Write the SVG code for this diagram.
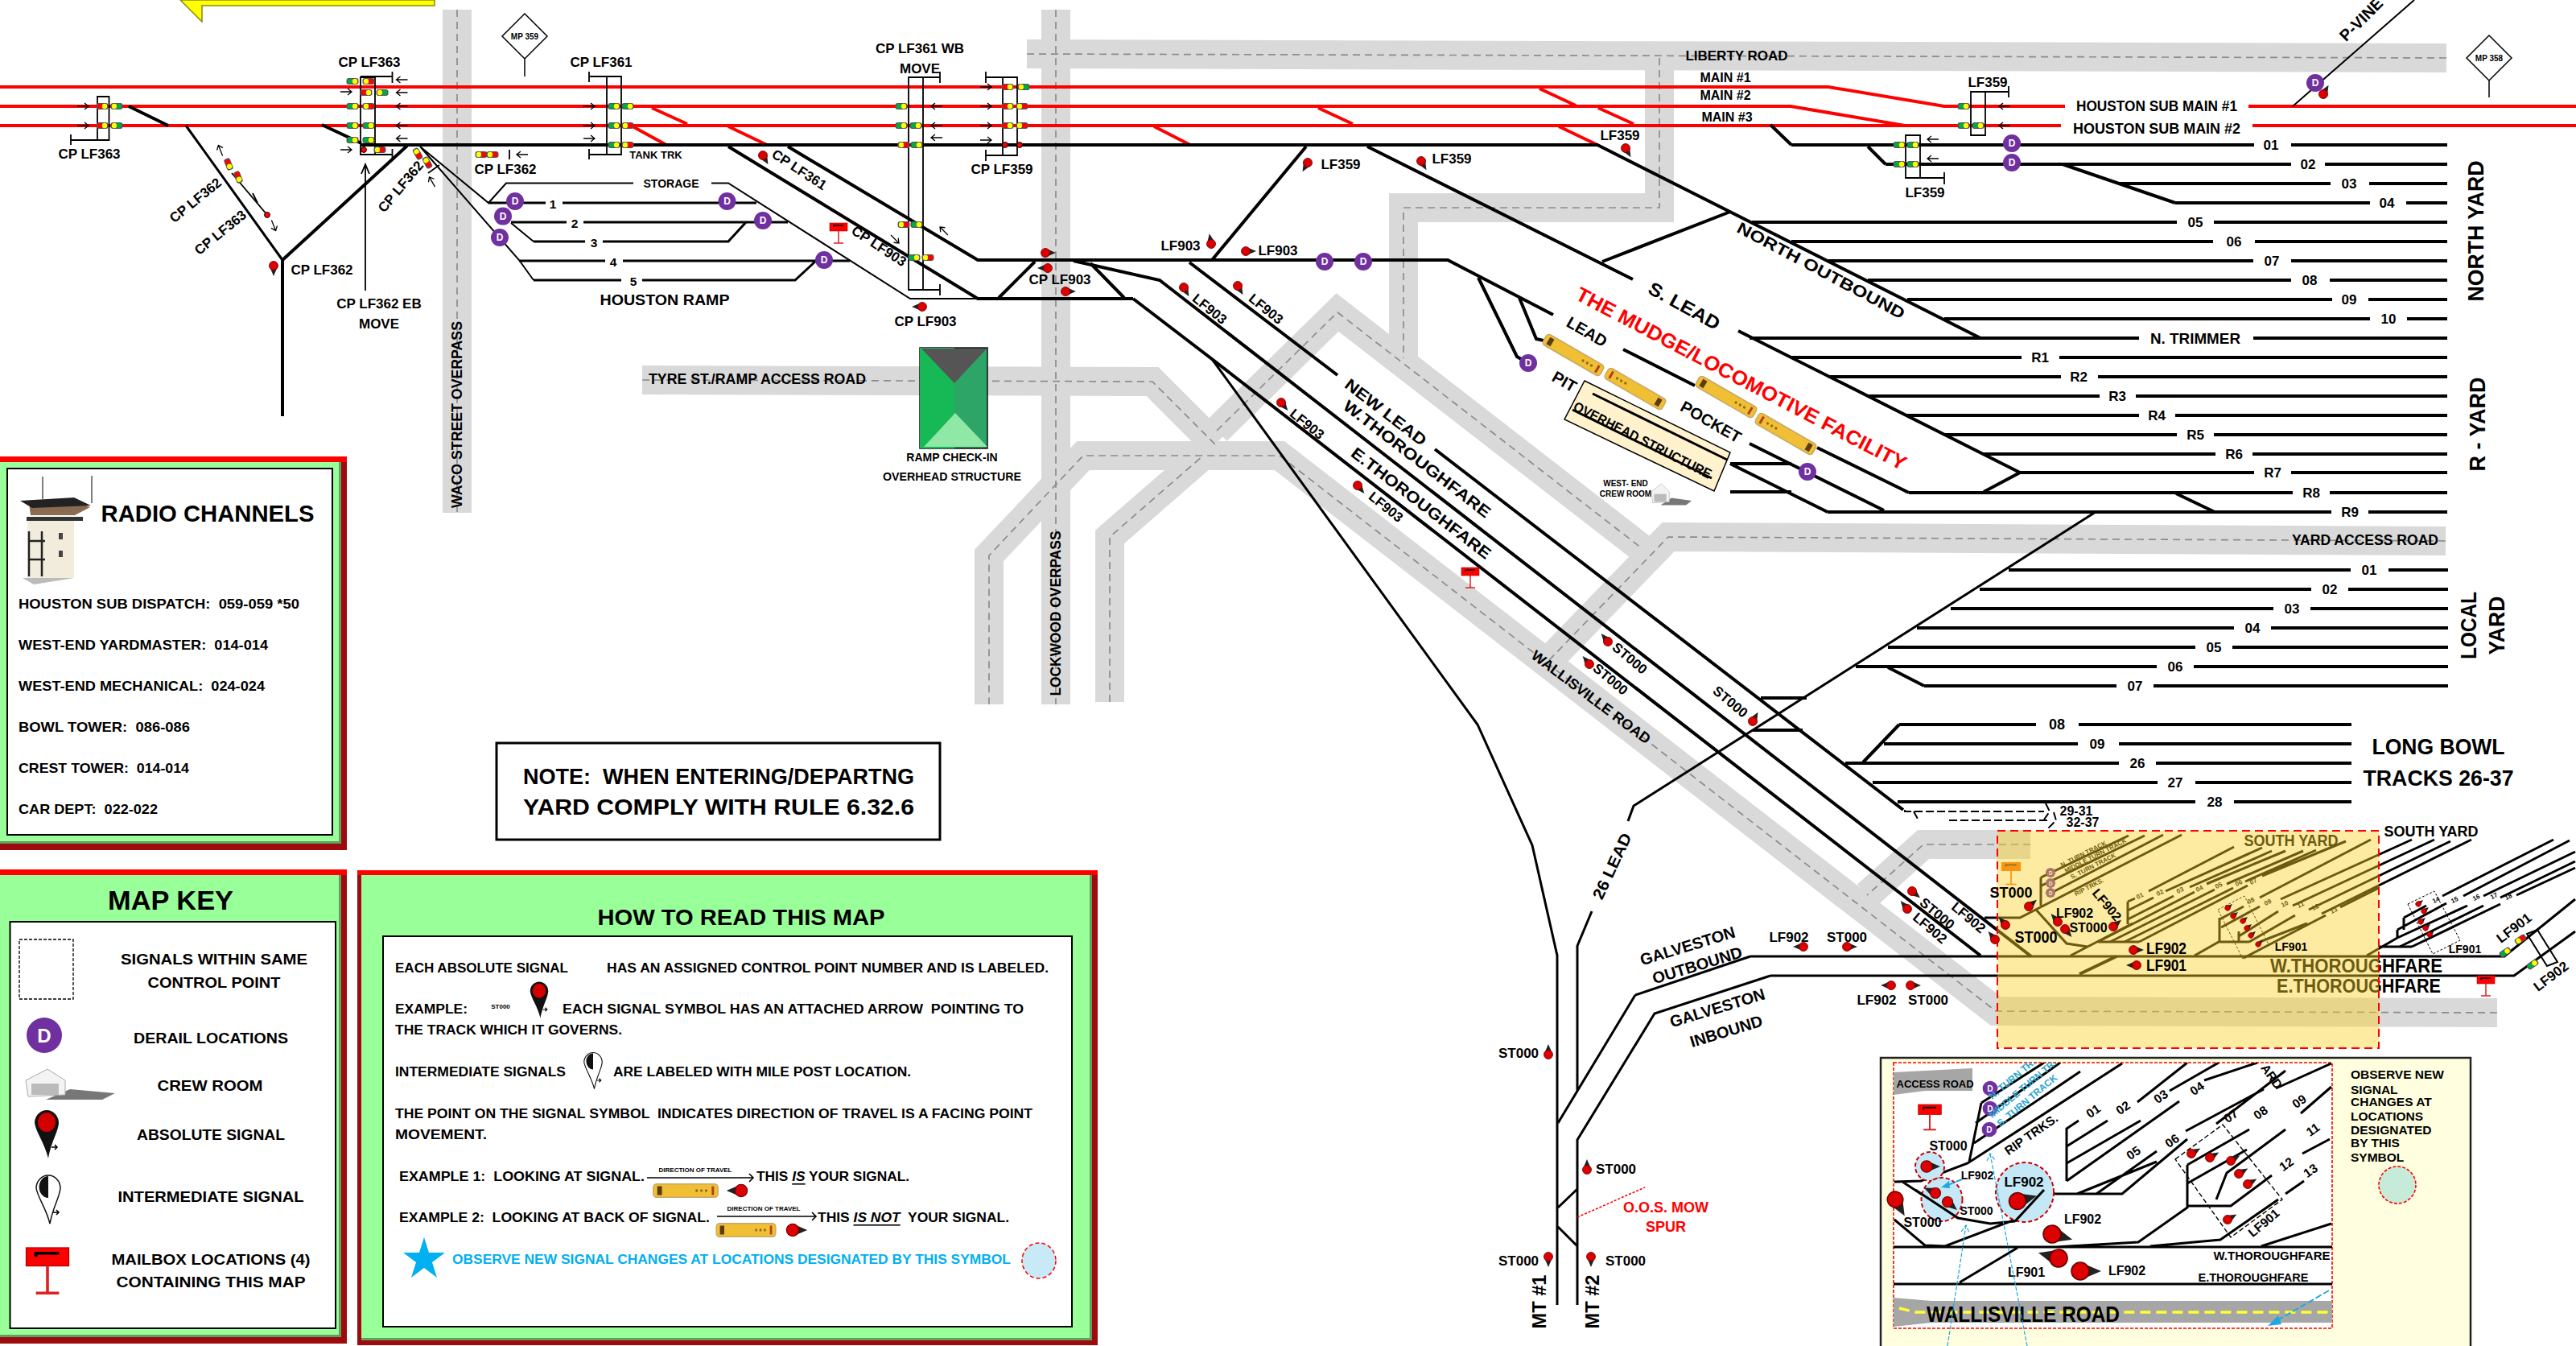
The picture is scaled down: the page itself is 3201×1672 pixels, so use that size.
<svg xmlns="http://www.w3.org/2000/svg" width="3201" height="1672" viewBox="0 0 3201 1672">
<style>
text{font-family:"Liberation Sans",Arial,sans-serif;font-weight:700;dominant-baseline:central;text-anchor:middle;fill:#000;white-space:pre}
.l{text-anchor:start}
.f8{font-size:8px}.f10{font-size:10px}.f12{font-size:12px}.f13{font-size:13px}.f14{font-size:14px}.f15{font-size:15.5px}.f16{font-size:16px}.f17{font-size:17px}.f18{font-size:18px}.f20{font-size:20px}.f23{font-size:23px}.f27{font-size:27px}.f30{font-size:30px}
.wide{font-size:21px}
.red{fill:#f00}.olive{fill:#000}.cyan{fill:#00b0f0}.blue{fill:#2aa6d0}
.band{fill:none;stroke:#d9d9d9;stroke-width:36}
.dash{fill:none;stroke:#8c8c8c;stroke-width:1.7;stroke-dasharray:9 6}
.k{fill:none;stroke:#000;stroke-width:4}
.m{fill:none;stroke:#000;stroke-width:3}
.n{fill:none;stroke:#000;stroke-width:2}
.t{fill:none;stroke:#000;stroke-width:1.6}
.r{fill:none;stroke:#f00;stroke-width:4}
.dsh{fill:none;stroke:#000;stroke-width:1;stroke-dasharray:3 2}
.wh{fill:#fff;stroke:#000;stroke-width:2}
.cp{fill:none;stroke:#000;stroke-width:1.8}
.rd{stroke:#f00;stroke-dasharray:5 3;stroke-width:1.5}
</style>
<defs>
<g id="hRY"><rect x="-7.5" y="-4" width="15" height="8" rx="3" fill="#555"/><circle cx="-3" r="3.2" fill="#f00"/><circle cx="3" r="3.2" fill="#ff0"/></g>
<g id="hGY"><rect x="-7.5" y="-4" width="15" height="8" rx="3" fill="#555"/><circle cx="-3" r="3.2" fill="#0a4"/><circle cx="3" r="3.2" fill="#ff0"/></g>
<g id="hYR"><rect x="-7.5" y="-4" width="15" height="8" rx="3" fill="#555"/><circle cx="-3" r="3.2" fill="#ff0"/><circle cx="3" r="3.2" fill="#f00"/></g>
<g id="hYG"><rect x="-7.5" y="-4" width="15" height="8" rx="3" fill="#555"/><circle cx="-3" r="3.2" fill="#ff0"/><circle cx="3" r="3.2" fill="#0a4"/></g>
<path id="ar" d="M-7 0H7M2 -4L7 0L2 4" fill="none" stroke="#000" stroke-width="1.3"/>
<path id="al" d="M7 0H-7M-2 -4L-7 0L-2 4" fill="none" stroke="#000" stroke-width="1.3"/>
<g id="sg"><path d="M0 -5.5L13 0L0 5.5z" fill="#222"/><circle r="5.5" fill="#d00" stroke="#600" stroke-width=".8"/></g>
<g id="D"><circle r="11" fill="#7030a0"/><text class="f12" style="fill:#fff">D</text></g>
<g id="mb"><rect x="-11" y="0" width="22" height="10" fill="#f00" stroke="#b00" stroke-width=".6"/><path d="M-6 5V3H6" fill="none" stroke="#000" stroke-width="1.6"/><path d="M0 10V25M-6 25H6" fill="none" stroke="#d22" stroke-width="1.5"/></g>
<g id="loco"><rect x="-41" y="-7.5" width="82" height="15" rx="4" fill="#f1bf34" stroke="#c7a868" stroke-width="1.5"/><rect x="-36" y="-5" width="6" height="10" fill="#5a3c10"/><circle cx="14" r="1.6" fill="#8a6a20"/><circle cx="20" r="1.6" fill="#8a6a20"/><circle cx="26" r="1.6" fill="#8a6a20"/><rect x="33" y="-5" width="3" height="10" fill="#b04020"/></g>
<g id="crew"><path d="M60 25L116 30L100 38L30 38z" fill="#777"/><path d="M5 14L32 0L54 14L54 32L8 34z" fill="#f3f3f3" stroke="#aaa"/><rect x="12" y="18" width="34" height="14" fill="#bbb"/></g>
<g id="pin"><path d="M-15 -2A15 16 0 0 1 15 -2C14 10 6 20 2 42C-3 22 -13 10 -15 -2z" fill="#111"/><ellipse cy="-3" rx="11" ry="12" fill="#d40000"/><path d="M6 28H13M10 25L13 28L10 31" fill="none" stroke="#000" stroke-width="1.5"/></g>
<g id="pinw"><path d="M-15 -2A15 16 0 0 1 15 -2C14 10 6 20 2 42C-3 22 -13 10 -15 -2z" fill="#fff" stroke="#111" stroke-width="1.5"/><path d="M0 -17A11 13 0 0 0 0 10z" fill="#111"/><path d="M6 28H13M10 25L13 28L10 31" fill="none" stroke="#000" stroke-width="1.5"/></g>
<path id="r1" d="M568 12V637"/>
<path id="r2" d="M1312 12V875"/>
<path id="r3" d="M1276 67L3040 72"/>
<path id="r4" d="M2062 72V258H1744V445"/>
<path id="r5" d="M1512 535L1662 388L2040 681"/>
<path id="r6" d="M3039 672L2073 667L1925 820"/>
<path id="r7" d="M798 472L1432 474L1510 552"/>
<path id="r8" d="M3103 1258L2480 1256L1590 566H1346L1229 690V875"/>
<path id="r9" d="M1379 872V667L1495 566"/>
<path id="r10" d="M2523 1049H2390L2320 1112"/>
<clipPath id="c1"><rect x="2353" y="1320" width="545" height="330"/></clipPath>
</defs>
<g id="banner"><path d="M224 0L251 27V7H540V0z" fill="#ff0" stroke="#8a8a00" stroke-width="1.5"/></g>
<g id="roads">
<use href="#r1" class="band"/><use href="#r2" class="band"/><use href="#r3" class="band"/><use href="#r4" class="band"/><use href="#r5" class="band"/><use href="#r6" class="band"/><use href="#r7" class="band"/><use href="#r8" class="band"/><use href="#r9" class="band"/><use href="#r10" class="band"/>
<use href="#r1" class="dash"/><use href="#r2" class="dash"/><use href="#r3" class="dash"/><use href="#r4" class="dash"/><use href="#r5" class="dash"/><use href="#r6" class="dash"/><use href="#r7" class="dash"/><use href="#r8" class="dash"/><use href="#r9" class="dash"/><use href="#r10" class="dash"/>
</g>
<g id="road-labels">
<text class="f18" transform="translate(568 515) rotate(-90)" textLength="232" lengthAdjust="spacingAndGlyphs">WACO STREET OVERPASS</text>
<text class="f18" transform="translate(1312 762) rotate(-90)" textLength="205" lengthAdjust="spacingAndGlyphs">LOCKWOOD OVERPASS</text>
<text class="f18" x="941" y="471" textLength="270" lengthAdjust="spacingAndGlyphs">TYRE ST./RAMP ACCESS ROAD</text>
<text class="f17" x="2158" y="69">LIBERTY ROAD</text>
<text class="f18" x="2939" y="671" textLength="182" lengthAdjust="spacingAndGlyphs">YARD ACCESS ROAD</text>
<text class="f18" transform="translate(1977 866) rotate(37)" textLength="180" lengthAdjust="spacingAndGlyphs">WALLISVILLE ROAD</text>
</g>
<g id="connectors">
<path class="r" d="M0 108H2272L2416 132H2566M2794 132H3201M0 132H2225L2367 156M0 156H2561M2799 156H3201M810 134L854 154M786 157L828 180M905 157L953 180M1913 110L1958 131M1986 134L2030 154M1638 134L1681 154M1434 157L1479 180M1937 157L1985 180"/>
<path class="k" d="M160 132L209 156M400 155L449 178M449 180H1985L2461 420M1699 182L2029 347M2150 263L1991 325M979 182L1215 323H1799L1930 391M905 182L1215 371H1408M1334 324L1441 348L2524 1188M1408 371L1506 446L2461 1187M1478 326L1662 466M1783 558L2365 1006M1506 323L1623 182"/>
<path class="k" d="M2174 420H2658M2800 420H3041M2160 411L2510 587L2465 611M2226 444H2512M2559 444H3041M2272 468H2561M2607 468H3041M2321 492H2609M2654 492H3041M2370 516H2658M2703 516H3041M2416 540H2705M2751 540H3041M2465 564H2753M2799 564H3041M2510 587H2801M2847 587H3041M2372 612H2849M2895 612H3041M2271 636H2897M2943 636H3041M2704 613L2752 636"/>
<path class="k" d="M2177 276H2705M2751 276H3041M2226 300H2750M2802 300H3041M2272 324H2800M2847 324H3041M2321 348H2847M2895 348H3041M2370 372H2898M2943 372H3041M2416 396H2945M2991 396H3041M2226 180H2801M2847 180H3041M2343 204H2847M2889 204H3041M2633 228H2896M2944 228H3041M2703 252H2945M2990 252H3041M2563 204L2703 252M2200 155L2226 180M2321 182L2343 204"/>
<path class="k" d="M2496 708H2921M2968 708H3042M2460 732H2872M2918 732H3042M2424 756H2825M2871 756H3042M2382 780H2776M2822 780H3042M2346 804H2728M2774 804H3042M2306 828H2680M2726 828H3042M2391 852H2630M2676 852H3042M2346 829L2391 852M2360 900H2530M2583 900H2922M2341 924H2582M2633 924H2922M2293 948H2633M2679 948H2922M2327 972H2681M2728 972H2922M2358 996H2728M2776 996H2922M2360 900L2315 947M2188 867H2245M2178 907H2240"/>
<path class="m" d="M2604 636L2030 1001L2023 1020M1978 1132L1960 1175V1355M2032 1236L1936 1395M1506 446L1836 900L1904 1050L1935 1187V1621M2175 1188H3112L3200 1117M2175 1188L2032 1236M2200 1212H3124L3200 1157M2200 1212L2056 1259L1960 1416V1621M1936 1500L1960 1477M1936 1524L1960 1548"/>
<path class="k" d="M2584 1210L2630 1188"/>
<path class="k" d="M2106 479L2017 434M2258 556L2372 612M2174 551L2341 634M2150 576H2226M2150 611H2226M2150 576L2271 636M1837 345L1885 443L1899 451M1888 370L1909 421L1918 423M1241 370L1286 325M1355 327L1397 370"/>
<path class="k" d="M351 323L506 181M351 323V517"/>
<path class="m" d="M231 156L351 323M607 252H678M699 252H940M635 276H704M725 276H979M663 300H727M749 300H905L927 276M645 324H752M774 324H1056M663 348H772M798 348H988L1014 324"/>
<path class="n" d="M522 182L607 252L629 227.5H787M884 227.5H905L1131 371H1215M522 182L645 323L663 348M635 277L663 300"/>
<path d="M2849 132L3000 0" class="n"/>
<path d="M1960 1512L2044 1475" fill="none" stroke="#f00" stroke-width="1.6" stroke-dasharray="3 2"/>
<path d="M2367 1006V1008H2540M2542 998L2547 1008L2540 1018M2422 1019H2547M2552 1009L2555 1019L2545 1029M2378 1008L2384 1019" fill="none" stroke="#000" stroke-width="2" stroke-dasharray="10 4"/>
</g>
<g id="south-tracks" stroke-linecap="butt">
<path class="m" d="M2466 1140H2510L2711 1037M2536 1090L2645 1038M2537 1100L2665 1038M2551 1108L2688 1037M2536 1090V1125M2530 1130L2568 1172L2594 1176M2573 1187L2650 1147M2607 1170H2658M2644 1120V1148M2727 1187L2757 1170H2795M2758 1170V1140M2782 1170V1157"/>
<path class="m" d="M2644 1120L2653 1116M2670 1107L2776 1052M2644 1131L2676 1115M2691 1107L2811 1053M2644 1142L2701 1113M2721 1102L2823 1057M2607 1170L2727 1108M2742 1098L2840 1057M2622 1170L2752 1105M2767 1098L2862 1057M2640 1170L2775 1103M2790 1095L2878 1056M2658 1170L2793 1100M2811 1088L2915 1045M2758 1142L2788 1126M2808 1115L2946 1043M2760 1152L2808 1126M2834 1117L2997 1043M2782 1163L2831 1132M2849 1125L3025 1043M2795 1170L2852 1137M2869 1130L3045 1045M2808 1170L2867 1147M2885 1135L3071 1043M2788 1190L2890 1137M2908 1127L2956 1103M2941 1187L2979 1165M2956 1176H2997"/>
<path class="m" d="M2987 1140L3015 1125M3035 1113L3173 1043M2979 1155L3040 1122M3061 1113L3193 1044M2979 1165L3066 1125M3086 1113L3200 1058M2982 1176L3086 1125M3107 1115L3200 1070M2997 1176L3107 1123M3127 1112L3200 1078M2987 1140V1155M2979 1155V1165"/>
<path class="dsh" d="M2992 1123L3025 1107L3057 1168L3023 1185zM2756 1130L2789 1113L2819 1173L2787 1191z"/>
<path class="n" d="M3140 1160L3165 1200L3178 1195L3153 1155z"/>
</g>
<g id="south-under-labels">
<text class="wide" x="2847" y="1043" textLength="117" lengthAdjust="spacingAndGlyphs">SOUTH YARD</text>
<text class="f23" x="2928" y="1200" textLength="214" lengthAdjust="spacingAndGlyphs">W.THOROUGHFARE</text>
<text class="f23" x="2931" y="1225" textLength="204" lengthAdjust="spacingAndGlyphs">E.THOROUGHFARE</text>
<text class="f8" transform="translate(2589 1061) rotate(-27)">N. TURN TRACK</text>
<text class="f8" transform="translate(2604 1063) rotate(-27)">MIDDLE TURN TRACK</text>
<text class="f8" transform="translate(2601 1076) rotate(-27)">S. TURN TRACK</text>
<text class="f8" transform="translate(2596 1102) rotate(-27)">RIP TRKS.</text>
<text class="f8" transform="translate(2659 1113) rotate(-27)">01</text><text class="f8" transform="translate(2684 1109) rotate(-27)">02</text><text class="f8" transform="translate(2709 1106) rotate(-27)">03</text><text class="f8" transform="translate(2733 1104) rotate(-27)">04</text><text class="f8" transform="translate(2757 1100) rotate(-27)">05</text><text class="f8" transform="translate(2782 1097) rotate(-27)">06</text><text class="f8" transform="translate(2800 1095) rotate(-27)">07</text><text class="f8" transform="translate(2797 1119) rotate(-27)">08</text><text class="f8" transform="translate(2818 1121) rotate(-27)">09</text><text class="f8" transform="translate(2839 1123) rotate(-27)">10</text><text class="f8" transform="translate(2859 1124) rotate(-27)">11</text><text class="f8" transform="translate(2877 1127) rotate(-27)">12</text><text class="f8" transform="translate(2900 1131) rotate(-27)">13</text>
<g transform="translate(2499 1071) scale(1.1)"><rect x="-11" y="0" width="22" height="10" fill="#f60"/><path d="M-6 5V3H6" fill="none" stroke="#333" stroke-width="1.6"/><path d="M0 10V25M-6 25H6" fill="none" stroke="#e60" stroke-width="1.5"/></g>
<use href="#D" transform="translate(2548 1084) scale(.55)"/><use href="#D" transform="translate(2548 1097) scale(.55)"/><use href="#D" transform="translate(2548 1109) scale(.55)"/>
</g>
<rect id="south-box" x="2482" y="1032" width="474" height="270" fill="#f9d125" fill-opacity=".43" stroke="#f00" stroke-width="2" stroke-dasharray="10 6"/>
<g id="labels">
<text class="f16" x="2144" y="96">MAIN #1</text><text class="f16" x="2144" y="118.6">MAIN #2</text><text class="f16" x="2146" y="145">MAIN #3</text>
<text class="f18" x="2680" y="132" textLength="200" lengthAdjust="spacingAndGlyphs">HOUSTON SUB MAIN #1</text>
<text class="f18" x="2680" y="160" textLength="208" lengthAdjust="spacingAndGlyphs">HOUSTON SUB MAIN #2</text>
<text class="f20" transform="translate(2934 24) rotate(-45)">P-VINE</text>
<text class="f17" x="2822" y="180">01</text><text class="f17" x="2868" y="204">02</text><text class="f17" x="2919" y="228">03</text><text class="f17" x="2966" y="252">04</text><text class="f17" x="2728" y="276">05</text><text class="f17" x="2776" y="300">06</text><text class="f17" x="2823" y="324">07</text><text class="f17" x="2870" y="348">08</text><text class="f17" x="2919" y="372">09</text><text class="f17" x="2968" y="396">10</text>
<text class="f18" x="2728" y="421" textLength="112" lengthAdjust="spacingAndGlyphs">N. TRIMMER</text>
<text class="f17" x="2535" y="444">R1</text><text class="f17" x="2583" y="468">R2</text><text class="f17" x="2631" y="492">R3</text><text class="f17" x="2680" y="516">R4</text><text class="f17" x="2728" y="540">R5</text><text class="f17" x="2776" y="564">R6</text><text class="f17" x="2824" y="587">R7</text><text class="f17" x="2872" y="612">R8</text><text class="f17" x="2920" y="636">R9</text>
<text class="f17" x="2944" y="708">01</text><text class="f17" x="2895" y="732">02</text><text class="f17" x="2848" y="756">03</text><text class="f17" x="2799" y="780">04</text><text class="f17" x="2751" y="804">05</text><text class="f17" x="2703" y="828">06</text><text class="f17" x="2653" y="852">07</text>
<text class="f18" x="2556" y="900">08</text><text class="f17" x="2606" y="924">09</text><text class="f17" x="2656" y="948">26</text><text class="f17" x="2703" y="972">27</text><text class="f17" x="2752" y="996">28</text>
<text class="f16" x="2580" y="1007">29-31</text><text class="f16" x="2588" y="1021">32-37</text>
<text class="f27" transform="translate(3077 287) rotate(-90)" textLength="175" lengthAdjust="spacingAndGlyphs">NORTH YARD</text>
<text class="f27" transform="translate(3079 527) rotate(-90)" textLength="117" lengthAdjust="spacingAndGlyphs">R - YARD</text>
<text class="f27" transform="translate(3068 777) rotate(-90)" textLength="84" lengthAdjust="spacingAndGlyphs">LOCAL</text>
<text class="f27" transform="translate(3103 777) rotate(-90)" textLength="73" lengthAdjust="spacingAndGlyphs">YARD</text>
<text class="f27" x="3030" y="928" textLength="165" lengthAdjust="spacingAndGlyphs">LONG BOWL</text>
<text class="f27" x="3030" y="967" textLength="187" lengthAdjust="spacingAndGlyphs">TRACKS 26-37</text>
<text style="font-size:19px" x="3021" y="1032" textLength="117" lengthAdjust="spacingAndGlyphs">SOUTH YARD</text>
<text class="f23" transform="translate(2093 380) rotate(29)" textLength="98" lengthAdjust="spacingAndGlyphs">S. LEAD</text>
<text class="f20" transform="translate(2263 336) rotate(28)" textLength="233" lengthAdjust="spacingAndGlyphs">NORTH OUTBOUND</text>
<text class="red" style="font-size:25px" transform="translate(2164 470) rotate(27.7)" textLength="460" lengthAdjust="spacingAndGlyphs">THE MUDGE/LOCOMOTIVE FACILITY</text>
<text class="f20" transform="translate(1972 412) rotate(30)">LEAD</text>
<text class="f20" transform="translate(1944 474) rotate(30)">PIT</text>
<text class="f20" transform="translate(2126 524) rotate(30)">POCKET</text>
<text class="f20" transform="translate(1722 512) rotate(37.6)" textLength="122" lengthAdjust="spacingAndGlyphs">NEW LEAD</text>
<text class="f20" transform="translate(1761 570) rotate(37.6)" textLength="225" lengthAdjust="spacingAndGlyphs">W.THOROUGHFARE</text>
<text class="f20" transform="translate(1766 625) rotate(37.6)" textLength="213" lengthAdjust="spacingAndGlyphs">E.THOROUGHFARE</text>
<text class="f20" transform="translate(2003 1076) rotate(-65)" textLength="88" lengthAdjust="spacingAndGlyphs">26 LEAD</text>
<text class="f20" transform="translate(2097 1175) rotate(-17)">GALVESTON</text><text class="f20" transform="translate(2109 1199) rotate(-17)">OUTBOUND</text>
<text class="f20" transform="translate(2134 1252) rotate(-17)">GALVESTON</text><text class="f20" transform="translate(2145 1281) rotate(-17)">INBOUND</text>
<text class="f23" transform="translate(1913 1617) rotate(-90)" textLength="67" lengthAdjust="spacingAndGlyphs">MT #1</text><text class="f23" transform="translate(1979 1617) rotate(-90)" textLength="67" lengthAdjust="spacingAndGlyphs">MT #2</text>
<text class="f18 red" x="2070" y="1500">O.O.S. MOW</text><text class="f18 red" x="2070" y="1524">SPUR</text>
<text class="f17" x="1887" y="1308">ST000</text><text class="f17" x="2008" y="1452">ST000</text><text class="f17" x="1887" y="1566">ST000</text><text class="f17" x="2020" y="1566">ST000</text>
<text class="f17" x="2223" y="1164">LF902</text><text class="f17" x="2295" y="1164">ST000</text><text class="f17" x="2332" y="1242">LF902</text><text class="f17" x="2396" y="1242">ST000</text>
<text class="f17" transform="translate(2025 818) rotate(40)">ST000</text><text class="f17" transform="translate(2001 844) rotate(40)">ST000</text><text class="f17" transform="translate(2150 872) rotate(40)">ST000</text>
<text class="f17" transform="translate(2407 1135) rotate(40)">ST000</text><text class="f17" transform="translate(2398 1153) rotate(40)">LF902</text><text class="f17" transform="translate(2446 1140) rotate(40)">LF902</text>
<text class="f18" x="2499" y="1109" textLength="53" lengthAdjust="spacingAndGlyphs">ST000</text><text class="f16" x="2578" y="1134">LF902</text><text class="f16" x="2595" y="1152">ST000</text><text class="f20" x="2530" y="1164" textLength="53" lengthAdjust="spacingAndGlyphs">ST000</text>
<text class="f16" transform="translate(2618 1124) rotate(50)">LF902</text>
<text class="f20" x="2692" y="1178" textLength="50" lengthAdjust="spacingAndGlyphs">LF902</text><text class="f20" x="2692" y="1199" textLength="50" lengthAdjust="spacingAndGlyphs">LF901</text>
<text class="f14" x="2847" y="1176">LF901</text><text class="f14" x="3063" y="1179">LF901</text>
<text class="f17" transform="translate(3124 1153) rotate(-37)">LF901</text><text class="f17" transform="translate(3170 1213) rotate(-37)">LF902</text>
<text class="f8" transform="translate(3027 1118) rotate(-27)">14</text><text class="f8" transform="translate(3050 1118) rotate(-27)">15</text><text class="f8" transform="translate(3077 1115) rotate(-27)">16</text><text class="f8" transform="translate(3099 1113) rotate(-27)">17</text><text class="f8" transform="translate(3117 1114) rotate(-27)">18</text>
<text class="f17" x="2013" y="168">LF359</text><text class="f17" x="1666" y="204">LF359</text><text class="f17" x="1804" y="197">LF359</text><text class="f17" x="2470" y="102">LF359</text><text class="f17" x="2392" y="239">LF359</text>
<text class="f17" x="1467" y="305">LF903</text><text class="f17" x="1588" y="311">LF903</text><text class="f17" x="1317" y="347">CP LF903</text><text class="f17" x="1150" y="399">CP LF903</text>
<text class="f17" transform="translate(1503 384) rotate(39)">LF903</text><text class="f17" transform="translate(1573 384) rotate(39)">LF903</text><text class="f17" transform="translate(1624 527) rotate(39)">LF903</text><text class="f17" transform="translate(1722 630) rotate(39)">LF903</text>
<text class="f17" transform="translate(1092 306) rotate(33)">CP LF903</text><text class="f17" transform="translate(993 211) rotate(33)">CP LF361</text>
<text class="f17" x="1143" y="60">CP LF361 WB</text><text class="f17" x="1143" y="85">MOVE</text><text class="f17" x="1245" y="210">CP LF359</text>
<text class="f17" x="111" y="191">CP LF363</text><text class="f17" x="459" y="77.5">CP LF363</text><text class="f17" x="747" y="77.5">CP LF361</text>
<text class="f17" x="628" y="210">CP LF362</text><text class="f17" x="400" y="335">CP LF362</text><text class="f17" x="471" y="377">CP LF362 EB</text><text class="f17" x="471" y="402">MOVE</text>
<text class="f13" x="815" y="192">TANK TRK</text>
<text class="f17" transform="translate(243 249) rotate(-39)">CP LF362</text><text class="f17" transform="translate(274 289) rotate(-39)">CP LF363</text><text class="f17" transform="translate(498 232) rotate(-50)">CP LF362</text>
<text class="f14" x="834" y="228">STORAGE</text><text class="f18" x="826" y="373" textLength="161" lengthAdjust="spacingAndGlyphs">HOUSTON RAMP</text>
<text class="f15" x="687" y="253">1</text><text class="f15" x="714" y="277">2</text><text class="f15" x="738" y="301">3</text><text class="f15" x="762" y="325">4</text><text class="f15" x="787" y="349">5</text>
<text class="f14" x="1183" y="568">RAMP CHECK-IN</text><text class="f14" x="1183" y="592" textLength="172" lengthAdjust="spacingAndGlyphs">OVERHEAD STRUCTURE</text>
<text class="f10" x="2020" y="600">WEST- END</text><text class="f10" x="2020" y="613">CREW ROOM</text>
</g>
<g id="mileposts">
<path class="wh" style="stroke-width:1.5" d="M652 17L680 45L652 73L624 45zM652 73V95M3093 44L3121 72L3093 100L3065 72zM3093 100V121"/>
<text class="f10" x="652" y="45">MP 359</text><text class="f10" x="3093" y="72">MP 358</text>
</g>
<g id="control-points">
<path class="cp" d="M121 120H135.5V174H121zM88 167V180M88 174H135.5M448 96H466V192H448zM448 95H487.5M487.5 89V103M448 192H487.5M487.5 185V198M754 95H772V192H754zM732 95H772M732 89V102M732 192H772M732 185V198M1129 96H1147V360H1129zM1129 96H1168M1168 89V103M1129 360H1168M1168 353V367M1246 96H1264V193H1246zM1225 96H1264M1225 89V103M1225 193H1264M1225 186V200M2449 114H2467V168H2449zM2449 114H2496M2496 107V121M2368 168H2386V221H2368zM2368 221H2416M2416 214V229M633 186V198M454 361V204M449 216L454 204L459 216M314 240L320 252M288 215L332 267M532 215L546 205"/>
<g id="heads">
<use href="#hRY" x="127" y="132"/><use href="#hYG" x="145" y="132"/><use href="#hRY" x="127" y="156"/><use href="#hYG" x="145" y="156"/>
<use href="#hGY" x="438" y="101"/><use href="#hYR" x="458" y="101"/><use href="#hRY" x="455" y="115"/><use href="#hYG" x="475" y="115"/><use href="#hGY" x="438" y="132"/><use href="#hYR" x="458" y="132"/><use href="#hGY" x="438" y="156"/><use href="#hGY" x="458" y="156"/><use href="#hGY" x="438" y="174"/><use href="#hGY" x="458" y="174"/><use href="#hYR" x="472" y="186"/><circle cx="452" cy="186" r="3.4" fill="#f00" stroke="#000"/>
<use href="#hGY" x="763" y="132"/><use href="#hGY" x="780" y="132"/><use href="#hGY" x="763" y="156"/><use href="#hYR" x="780" y="156"/><use href="#hGY" x="763" y="180"/><use href="#hYR" x="780" y="180"/>
<use href="#hYR" x="598" y="192"/><use href="#hYR" x="612" y="192"/>
<use href="#hGY" x="1120" y="132"/><use href="#hGY" x="1120" y="156"/><use href="#hGY" x="1138" y="156"/><use href="#hYR" x="1123" y="180"/><use href="#hGY" x="1139" y="180"/><use href="#hYR" x="1123" y="279"/><use href="#hGY" x="1139" y="279"/><use href="#hGY" x="1136" y="320"/><use href="#hYR" x="1153" y="320"/>
<use href="#hRY" x="1252" y="108"/><use href="#hYG" x="1272" y="108"/><use href="#hRY" x="1252" y="132"/><use href="#hYR" x="1270" y="132"/><use href="#hRY" x="1252" y="156"/><use href="#hYR" x="1270" y="156"/><circle cx="1249" cy="180" r="3.4" fill="#f00" stroke="#000"/><circle cx="1267" cy="180" r="3.4" fill="#f00" stroke="#000"/>
<use href="#hGY" x="2440" y="132"/><use href="#hGY" x="2440" y="156"/><use href="#hGY" x="2458" y="156"/><use href="#hGY" x="2360" y="180"/><use href="#hGY" x="2377" y="180"/><use href="#hGY" x="2360" y="204"/><use href="#hGY" x="2377" y="204"/>
<use href="#hRY" transform="translate(284 204) rotate(68)"/><use href="#hRY" transform="translate(296 220) rotate(68)"/><use href="#hYR" transform="translate(519 191) rotate(60)"/><use href="#hYR" transform="translate(531 202) rotate(60)"/><circle cx="332" cy="267" r="3.4" fill="#f00" stroke="#000"/>
<use href="#hGY" transform="translate(3113 1183) rotate(-35)"/><use href="#hYR" transform="translate(3132 1167) rotate(-35)"/><use href="#hGY" transform="translate(3147 1198) rotate(-35)"/>
</g>
<g id="arrows">
<use href="#ar" x="103" y="132"/><use href="#ar" x="103" y="156"/><use href="#al" x="499.5" y="99"/><use href="#al" x="499.5" y="115"/><use href="#al" x="499.5" y="132"/><use href="#al" x="499.5" y="156"/><use href="#al" x="499.5" y="172"/><use href="#ar" x="430" y="114"/><use href="#ar" x="430" y="186"/>
<use href="#ar" x="732" y="132"/><use href="#ar" x="732" y="156"/><use href="#ar" x="732" y="172"/><use href="#al" x="649" y="192"/>
<use href="#al" x="1164" y="132"/><use href="#al" x="1164" y="156"/><use href="#al" x="1164" y="171"/><use href="#ar" x="1225" y="108"/><use href="#ar" x="1225" y="132"/><use href="#ar" x="1225" y="156"/><use href="#ar" x="1225" y="174"/>
<use href="#al" x="2491" y="132"/><use href="#al" x="2491" y="156"/><use href="#al" x="2402" y="173"/><use href="#al" x="2402" y="197"/>
<use href="#al" transform="translate(1173 287) rotate(45)"/><use href="#ar" transform="translate(1112 297) rotate(45)"/><use href="#al" transform="translate(274 187) rotate(68)"/><use href="#ar" transform="translate(340 280) rotate(68)"/><use href="#al" transform="translate(537 226) rotate(60)"/>
</g>
</g>
<g id="derails">
<use href="#D" x="640" y="250"/><use href="#D" x="903.5" y="250"/><use href="#D" x="625" y="268.6"/><use href="#D" x="948" y="274"/><use href="#D" x="1024" y="323"/><use href="#D" x="621" y="295"/><use href="#D" x="1646" y="325"/><use href="#D" x="1694" y="325"/><use href="#D" x="1899" y="451"/><use href="#D" x="2246" y="586"/><use href="#D" x="2500" y="178"/><use href="#D" x="2500" y="202"/><use href="#D" x="2877" y="103"/>
</g>
<g id="signals">
<use href="#sg" transform="translate(340 330) rotate(90)"/><use href="#sg" transform="translate(948 193) rotate(60)"/><use href="#sg" x="1299" y="314"/><use href="#sg" transform="translate(1302 333) rotate(180)"/><use href="#sg" x="1324" y="362"/><use href="#sg" transform="translate(1625 202) rotate(120)"/><use href="#sg" transform="translate(1766 200) rotate(60)"/><use href="#sg" transform="translate(2020 184) rotate(60)"/><use href="#sg" transform="translate(1505 303) rotate(-100)"/><use href="#sg" x="1548" y="312"/><use href="#sg" transform="translate(1471 357) rotate(60)"/><use href="#sg" transform="translate(1538 355) rotate(60)"/><use href="#sg" transform="translate(1592 500) rotate(50)"/><use href="#sg" transform="translate(1687 603) rotate(50)"/><use href="#sg" transform="translate(1146 381) rotate(180)"/>
<use href="#sg" transform="translate(1998 797) rotate(-130)"/><use href="#sg" transform="translate(1975 825) rotate(-130)"/><use href="#sg" transform="translate(2178 896) rotate(-60)"/><use href="#sg" transform="translate(2887 117) rotate(-60)"/>
<use href="#sg" transform="translate(2376 1107) rotate(40)"/><use href="#sg" transform="translate(2370 1129) rotate(-130)"/><use href="#sg" transform="translate(2241 1176) rotate(180)"/><use href="#sg" x="2295" y="1176"/><use href="#sg" transform="translate(2350 1224) rotate(180)"/><use href="#sg" x="2374" y="1224"/>
<use href="#sg" transform="translate(1924 1310) rotate(-90)"/><use href="#sg" transform="translate(1972 1453) rotate(-90)"/><use href="#sg" transform="translate(1924 1561) rotate(90)"/><use href="#sg" transform="translate(1977 1561) rotate(90)"/>
<use href="#sg" transform="translate(2521 1126) rotate(-40)"/><use href="#sg" transform="translate(2492 1149) rotate(-130)"/><use href="#sg" transform="translate(2557 1145) rotate(-130)"/><use href="#sg" transform="translate(2566 1154) rotate(50)"/><use href="#sg" transform="translate(2626 1151) rotate(-40)"/><use href="#sg" x="2651" y="1180"/><use href="#sg" transform="translate(2655 1199) rotate(180)"/><use href="#sg" transform="translate(2479 1167) rotate(-130)"/>
<use href="#sg" transform="translate(2768 1128) rotate(-40) scale(.6)"/><use href="#sg" transform="translate(2775 1138) rotate(-40) scale(.6)"/><use href="#sg" transform="translate(2787 1144) rotate(-40) scale(.6)"/><use href="#sg" transform="translate(2792 1153) rotate(-40) scale(.6)"/><use href="#sg" transform="translate(2797 1162) rotate(-40) scale(.6)"/><use href="#sg" transform="translate(2806 1173) rotate(-40) scale(.6)"/>
<use href="#sg" transform="translate(3005 1123) rotate(-40) scale(.6)"/><use href="#sg" transform="translate(3012 1132) rotate(-40) scale(.6)"/><use href="#sg" transform="translate(3008 1145) rotate(-40) scale(.6)"/><use href="#sg" transform="translate(3014 1153) rotate(-40) scale(.6)"/><use href="#sg" transform="translate(3019 1161) rotate(-40) scale(.6)"/>
</g>
<g id="mailboxes"><use href="#mb" x="1042" y="277"/><use href="#mb" x="1827" y="705"/><use href="#mb" x="3089" y="1212"/></g>
<g id="ramp-structure">
<rect x="1143" y="432" width="84" height="125" fill="#2ca566" stroke="#111" stroke-width="1.5"/>
<path d="M1143 432H1186V557H1143z" fill="#16b955"/><path d="M1145 433H1226L1186 476z" fill="#555"/><path d="M1148 555L1187 513L1227 555z" fill="#8fe8a5"/>
</g>
<g id="mudge">
<path d="M1969 473L2150 562L2130 610L1944 521z" fill="#fff2cc" stroke="#000" stroke-width="1.5"/>
<path class="m" d="M1979 489L2146 571M1954 509L2127 594"/>
<text class="f17" transform="translate(2041 547) rotate(27)" textLength="190" lengthAdjust="spacingAndGlyphs">OVERHEAD STRUCTURE</text>
<use href="#loco" transform="translate(1955 441) rotate(30)"/><use href="#loco" transform="translate(2032 483) rotate(210)"/><use href="#loco" transform="translate(2145 493) rotate(30)"/><use href="#loco" transform="translate(2219 539) rotate(210)"/>
<use href="#crew" transform="translate(2050 601) scale(.45 .7)"/>
</g>
<g id="radio-panel">
<rect x="-2" y="567" width="433" height="489" fill="#9e0b0f"/><rect x="-2" y="567" width="433" height="7" fill="#f00"/>
<rect x="-2" y="574" width="426" height="474" fill="#5f9f5f"/><rect x="-2" y="574" width="423" height="471" fill="#9f9"/>
<rect x="9" y="582" width="404" height="455" class="wh"/>
<g id="tower"><path d="M53 592V620M114 591V625" stroke="#555" stroke-width="1.5"/><path d="M34 647H92V718H34z" fill="#f1ecdc"/><path d="M36 625H100L112 630L93 640H38z" fill="#8a6a50"/><path d="M25 622L92 618L113 628L40 631z" fill="#222"/><path d="M33 642H103V647H33z" fill="#333"/><path d="M36 660V716M52 660V716M36 672H56M36 695H56" stroke="#222" stroke-width="2.5" fill="none"/><rect x="73" y="662" width="5" height="8" fill="#444"/><rect x="73" y="684" width="5" height="8" fill="#444"/><path d="M28 718H92L42 726z" fill="#bbb"/></g>
<text style="font-size:30px" x="258" y="637" textLength="265" lengthAdjust="spacingAndGlyphs">RADIO CHANNELS</text>
<text class="l f17" x="23" y="750" textLength="349" lengthAdjust="spacingAndGlyphs">HOUSTON SUB DISPATCH:  059-059 *50</text>
<text class="l f17" x="23" y="801" textLength="310" lengthAdjust="spacingAndGlyphs">WEST-END YARDMASTER:  014-014</text>
<text class="l f17" x="23" y="852" textLength="306" lengthAdjust="spacingAndGlyphs">WEST-END MECHANICAL:  024-024</text>
<text class="l f17" x="23" y="903" textLength="213" lengthAdjust="spacingAndGlyphs">BOWL TOWER:  086-086</text>
<text class="l f17" x="23" y="954" textLength="212" lengthAdjust="spacingAndGlyphs">CREST TOWER:  014-014</text>
<text class="l f17" x="23" y="1005" textLength="173" lengthAdjust="spacingAndGlyphs">CAR DEPT:  022-022</text>
</g>
<g id="map-key">
<rect x="-2" y="1080" width="433" height="589" fill="#9e0b0f"/><rect x="-2" y="1080" width="433" height="7" fill="#f00"/>
<rect x="-2" y="1087" width="426" height="574" fill="#5f9f5f"/><rect x="-2" y="1087" width="423" height="571" fill="#9f9"/>
<rect x="12.5" y="1145" width="404.5" height="505" class="wh"/>
<text style="font-size:34px" x="212" y="1118" textLength="156" lengthAdjust="spacingAndGlyphs">MAP KEY</text>
<rect x="24" y="1167" width="67" height="74" fill="none" stroke="#000" stroke-width="1.3" stroke-dasharray="4 2"/>
<text class="f18" x="266" y="1192" textLength="232" lengthAdjust="spacingAndGlyphs">SIGNALS WITHIN SAME</text><text class="f18" x="266" y="1221" textLength="165" lengthAdjust="spacingAndGlyphs">CONTROL POINT</text>
<g transform="translate(55 1286) scale(2)"><use href="#D"/></g>
<text class="f18" x="262" y="1290" textLength="192" lengthAdjust="spacingAndGlyphs">DERAIL LOCATIONS</text>
<use href="#crew" transform="translate(27 1328)"/><text class="f18" x="261" y="1349" textLength="131" lengthAdjust="spacingAndGlyphs">CREW ROOM</text>
<use href="#pin" x="58" y="1397"/><text class="f18" x="262" y="1410" textLength="184" lengthAdjust="spacingAndGlyphs">ABSOLUTE SIGNAL</text>
<use href="#pinw" x="60" y="1478"/><text class="f18" x="262" y="1487" textLength="231" lengthAdjust="spacingAndGlyphs">INTERMEDIATE SIGNAL</text>
<g transform="translate(59 1550) scale(2.4 2.25)"><use href="#mb"/></g>
<text class="f18" x="262" y="1565" textLength="247" lengthAdjust="spacingAndGlyphs">MAILBOX LOCATIONS (4)</text><text class="f18" x="262" y="1593" textLength="235" lengthAdjust="spacingAndGlyphs">CONTAINING THIS MAP</text>
</g>
<g id="how-to-read">
<rect x="444" y="1081" width="920" height="590" fill="#9e0b0f"/><rect x="444" y="1081" width="920" height="6" fill="#f00"/>
<rect x="449" y="1087" width="908" height="578" fill="#5f9f5f"/><rect x="449" y="1087" width="905" height="575" fill="#9f9"/>
<rect x="476" y="1163" width="856" height="485" class="wh"/>
<text class="f27" x="921" y="1140" textLength="357" lengthAdjust="spacingAndGlyphs">HOW TO READ THIS MAP</text>
<text class="l f16" x="491" y="1202" textLength="215" lengthAdjust="spacingAndGlyphs">EACH ABSOLUTE SIGNAL</text>
<text class="l f16" x="754" y="1202" textLength="549" lengthAdjust="spacingAndGlyphs">HAS AN ASSIGNED CONTROL POINT NUMBER AND IS LABELED.</text>
<text class="l f16" x="491" y="1253" textLength="90" lengthAdjust="spacingAndGlyphs">EXAMPLE:</text><text class="f8" x="622" y="1250">ST000</text><use href="#pin" transform="translate(670 1233) scale(.75)"/>
<text class="l f16" x="699" y="1253" textLength="573" lengthAdjust="spacingAndGlyphs">EACH SIGNAL SYMBOL HAS AN ATTACHED ARROW  POINTING TO</text>
<text class="l f16" x="491" y="1279" textLength="282" lengthAdjust="spacingAndGlyphs">THE TRACK WHICH IT GOVERNS.</text>
<text class="l f16" x="491" y="1331" textLength="212" lengthAdjust="spacingAndGlyphs">INTERMEDIATE SIGNALS</text><use href="#pinw" transform="translate(737 1321) scale(.75)"/>
<text class="l f16" x="762" y="1331" textLength="370" lengthAdjust="spacingAndGlyphs">ARE LABELED WITH MILE POST LOCATION.</text>
<text class="l f16" x="491" y="1383" textLength="792" lengthAdjust="spacingAndGlyphs">THE POINT ON THE SIGNAL SYMBOL  INDICATES DIRECTION OF TRAVEL IS A FACING POINT</text>
<text class="l f16" x="491" y="1409" textLength="114" lengthAdjust="spacingAndGlyphs">MOVEMENT.</text>
<text class="l f16" x="496" y="1461" textLength="305" lengthAdjust="spacingAndGlyphs">EXAMPLE 1:  LOOKING AT SIGNAL.</text>
<path class="t" d="M804 1463H936M931 1458L936 1463L931 1468M891 1511H1014M1009 1506L1014 1511L1009 1516"/>
<text class="f8" x="864" y="1453">DIRECTION OF TRAVEL</text><use href="#loco" transform="translate(852 1479) scale(.98 1.1)"/><use href="#sg" transform="translate(921 1479) rotate(180) scale(1.4)"/>
<text class="l f16" x="940" y="1461" textLength="190" lengthAdjust="spacingAndGlyphs">THIS <tspan font-style="italic" text-decoration="underline">IS</tspan> YOUR SIGNAL.</text>
<text class="l f16" x="496" y="1512" textLength="386" lengthAdjust="spacingAndGlyphs">EXAMPLE 2:  LOOKING AT BACK OF SIGNAL.</text>
<text class="f8" x="949" y="1501">DIRECTION OF TRAVEL</text><use href="#loco" transform="translate(927 1528) scale(.9 1.1)"/><use href="#sg" transform="translate(985 1528) scale(1.4)"/>
<text class="l f16" x="1016" y="1512" textLength="238" lengthAdjust="spacingAndGlyphs">THIS <tspan font-style="italic" text-decoration="underline">IS NOT</tspan>  YOUR SIGNAL.</text>
<path d="M527 1537L533 1556L553 1556L537 1568L543 1587L527 1575L511 1587L517 1568L501 1556L521 1556z" fill="#00b0f0"/>
<text class="l f16 cyan" x="562" y="1564" textLength="694" lengthAdjust="spacingAndGlyphs">OBSERVE NEW SIGNAL CHANGES AT LOCATIONS DESIGNATED BY THIS SYMBOL</text>
<ellipse cx="1291" cy="1566" rx="21" ry="22" fill="#c8eaf7" class="rd"/>
</g>
<g id="note"><rect x="617" y="923" width="551" height="120" fill="#fff" stroke="#000" stroke-width="3"/>
<text class="f27" x="893" y="965" textLength="486" lengthAdjust="spacingAndGlyphs">NOTE:  WHEN ENTERING/DEPARTNG</text>
<text class="f27" x="893" y="1003" textLength="486" lengthAdjust="spacingAndGlyphs">YARD COMPLY WITH RULE 6.32.6</text></g>
<g id="inset">
<rect x="2337" y="1314" width="733" height="370" fill="#ffffdf" stroke="#222" stroke-width="2.5"/>
<rect x="2353" y="1320" width="545" height="330" fill="#fff" stroke="#f00" stroke-dasharray="4 2" stroke-width="1.6"/>
<g clip-path="url(#c1)">
<path d="M2353 1332L2451 1327V1355H2392L2353 1360z" fill="#a6a6a6"/>
<text class="f13 l" x="2344" y="1346">D ACCESS ROAD</text>
<path d="M2353 1612L2400 1616H2898V1643H2400L2353 1648z" fill="#a6a6a6"/>
<path d="M2360 1625L2380 1630H2896" fill="none" stroke="#ff3" stroke-width="3.5" stroke-dasharray="13 7"/>
<path class="m" d="M2462 1370L2540 1320M2455 1395L2560 1320M2453 1420L2585 1331M2462 1370L2447 1443M2354 1468L2387 1467L2445 1445L2637 1321M2568 1467V1402L2583 1392M2568 1424L2619 1392M2656 1369L2718 1320M2568 1445L2660 1392M2696 1355L2757 1320M2568 1467L2708 1368M2739 1342L2805 1320M2554 1483L2637 1483L2718 1415M2754 1396L2840 1330M2581 1483L2680 1443M2716 1405L2813 1353M2605 1483L2680 1430M2718 1447L2795 1403M2504 1517L2554 1482M2364 1468L2433 1513L2473 1520L2504 1517M2354 1515L2392 1547L2417 1548L2509 1513M2353 1549H2898M2353 1595H2898M2435 1593L2507 1550M2555 1549L2657 1543L2718 1500V1447M2718 1498H2772L2823 1460M2718 1470L2792 1428M2754 1490L2767 1457L2840 1403M2840 1483L2863 1467M2672 1548L2759 1540L2831 1490M2810 1548L2897 1520M2861 1433L2895 1415M2859 1383L2897 1350M2828 1352L2897 1321"/>
</g>
<use href="#D" transform="translate(2473 1352) scale(.85)"/><use href="#D" transform="translate(2473 1377) scale(.85)"/><use href="#D" transform="translate(2472 1403) scale(.85)"/>
<g transform="translate(2398 1372) scale(1.3 1.25)"><use href="#mb"/></g>
<g clip-path="url(#c1)">
<text class="f12 blue" transform="translate(2509 1333) rotate(-40)">N. TURN TRACK</text><text class="f12 blue" transform="translate(2522 1345) rotate(-40)">MIDDLE TURN TRACK</text><text class="f12 blue" transform="translate(2519 1367) rotate(-40)">S. TURN TRACK</text>
<text class="f15" transform="translate(2823 1337) rotate(55)">ARD</text>
<text class="f15" transform="translate(2524 1409) rotate(-35)">RIP TRKS.</text>
</g>
<text class="f15" transform="translate(2601 1380) rotate(-35)">01</text><text class="f15" transform="translate(2638 1376) rotate(-35)">02</text><text class="f15" transform="translate(2685 1362) rotate(-35)">03</text><text class="f15" transform="translate(2730 1352) rotate(-35)">04</text><text class="f15" transform="translate(2651 1432) rotate(-35)">05</text><text class="f15" transform="translate(2699 1417) rotate(-35)">06</text><text class="f15" transform="translate(2772 1386) rotate(-35)">07</text><text class="f15" transform="translate(2809 1382) rotate(-35)">08</text><text class="f15" transform="translate(2857 1368) rotate(-35)">09</text><text class="f15" transform="translate(2874 1403) rotate(-35)">11</text><text class="f15" transform="translate(2841 1446) rotate(-35)">12</text><text class="f15" transform="translate(2871 1454) rotate(-35)">13</text>
<path d="M2703 1440L2762 1397L2836 1490L2772 1537z" fill="none" stroke="#000" stroke-width="1.4" stroke-dasharray="6 3"/>
<text class="f15" transform="translate(2813 1519) rotate(-40)">LF901</text>
<ellipse cx="2398" cy="1449" rx="18" ry="18" fill="#c4e8f5" stroke="#c00" stroke-width="2" stroke-dasharray="5 3"/>
<ellipse cx="2413" cy="1490" rx="25.5" ry="27" fill="#c4e8f5" stroke="#c00" stroke-width="2" stroke-dasharray="5 3"/>
<ellipse cx="2516" cy="1481" rx="36" ry="37" fill="#c4e8f5" stroke="#c00" stroke-width="2" stroke-dasharray="5 3"/>
<path class="m" d="M2380 1478L2433 1513M2504 1517L2540 1478"/>
<use href="#sg" transform="translate(2394 1449) scale(1.3)"/><use href="#sg" transform="translate(2405 1482) rotate(205) scale(1.2)"/><use href="#sg" transform="translate(2420 1493) rotate(40) scale(1.2)"/><use href="#sg" transform="translate(2507 1492) rotate(-15) scale(1.9)"/><use href="#sg" transform="translate(2355 1490) rotate(60) scale(1.8)"/><use href="#sg" transform="translate(2550 1533) rotate(15) scale(2)"/><use href="#sg" transform="translate(2558 1563) rotate(195) scale(2)"/><use href="#sg" transform="translate(2585 1579) scale(2)"/>
<use href="#sg" transform="translate(2723 1433) rotate(-30)"/><use href="#sg" transform="translate(2746 1438) rotate(-30)"/><use href="#sg" transform="translate(2772 1442) rotate(-30)"/><use href="#sg" transform="translate(2782 1458) rotate(-30)"/><use href="#sg" transform="translate(2793 1471) rotate(-30)"/><use href="#sg" transform="translate(2768 1515) rotate(-30)"/>
<text class="f16" x="2421" y="1423">ST000</text><text class="f14" x="2457" y="1460">LF902</text><text class="f14" x="2456" y="1504">ST000</text><text class="f16" x="2389" y="1518">ST000</text><text class="f17" x="2515" y="1468">LF902</text><text class="f16" x="2588" y="1514">LF902</text><text class="f16" x="2518" y="1580">LF901</text><text class="f16" x="2643" y="1578">LF902</text>
<text class="f15" x="2823" y="1559" textLength="145" lengthAdjust="spacingAndGlyphs">W.THOROUGHFARE</text><text class="f15" x="2800" y="1586" textLength="137" lengthAdjust="spacingAndGlyphs">E.THOROUGHFARE</text>
<text style="font-size:28px" x="2514" y="1632" textLength="240" lengthAdjust="spacingAndGlyphs">WALLISVILLE ROAD</text>
<path d="M2420 1672L2443 1522M2437 1530L2443 1522L2447 1531M2519 1672L2473 1433M2469 1442L2473 1433L2479 1441" fill="none" stroke="#1fa8e0" stroke-width="1.2" stroke-dasharray="5 2"/>
<path d="M2438 1465L2418 1473M2894 1603L2830 1640" fill="none" stroke="#1fa8e0" stroke-width="2" stroke-dasharray="8 3"/>
<path d="M2412 1475L2422 1467L2423 1476zM2818 1647L2831 1634L2835 1645z" fill="#1fa8e0"/>
<text class="l f15" x="2921" y="1334">OBSERVE NEW</text><text class="l f15" x="2921" y="1353">SIGNAL</text><text class="l f15" x="2921" y="1368">CHANGES AT</text><text class="l f15" x="2921" y="1386">LOCATIONS</text><text class="l f15" x="2921" y="1403">DESIGNATED</text><text class="l f15" x="2921" y="1419">BY THIS</text><text class="l f15" x="2921" y="1437">SYMBOL</text>
<ellipse cx="2979" cy="1472" rx="23" ry="23" fill="#c6ecd9" stroke="#f00" stroke-width="1.6" stroke-dasharray="4 2"/>
</g>
</svg>
